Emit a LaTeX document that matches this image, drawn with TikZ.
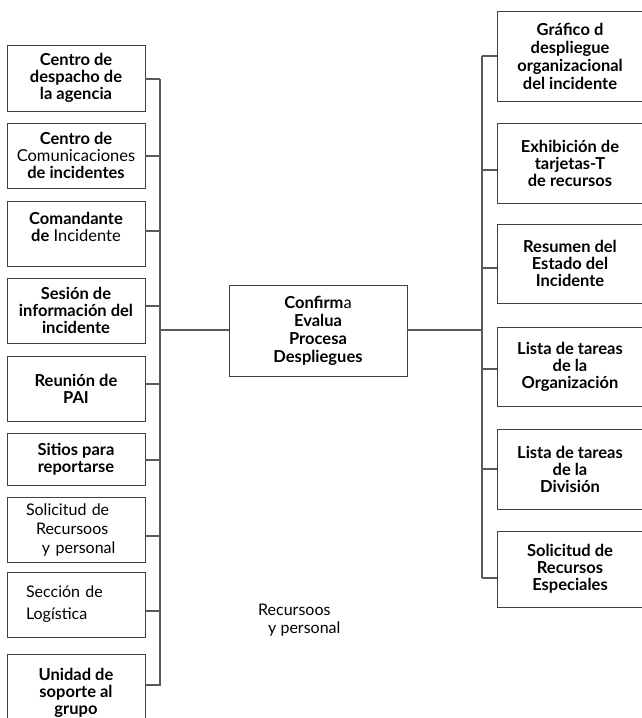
\documentclass[tikz,border=0pt]{standalone}
\usepackage{fontspec}
\setmainfont{Lato}
\begin{document}
\begin{tikzpicture}[x=1pt,y=-1pt,
  box/.style={draw=black!75, line width=0.9pt, align=center, inner sep=0pt,
    font=\fontsize{16.5}{17}\selectfont},
  lbox/.style={box, minimum width=138pt},
  rbox/.style={box, minimum width=146pt},
  leftset/.style={align=left, text width=100pt, inner xsep=19pt},
  link/.style={draw=black!65, line width=1.1pt},
  plain/.style={font=\fontsize{16}{18}\selectfont, align=left, inner sep=0pt}]
\clip (0,0) rectangle (642,718);

% left column
\node[lbox, minimum height=66pt] (L1) at (76,78) {\textbf{Centro de}\\\textbf{despacho de}\\\textbf{la agencia}};
\node[lbox, minimum height=65pt] (L2) at (76,155.5) {\textbf{Centro de}\\Comunicaciones\\\textbf{de incidentes}};
\node[lbox, minimum height=65pt] (L3) at (76,233.5) {\textbf{Comandante}\\\textbf{de} Incidente\\[-3pt]};
\node[lbox, minimum height=65pt] (L4) at (76,310.5) {\textbf{Sesión de}\\\textbf{información del}\\\textbf{incidente}};
\node[lbox, minimum height=65pt] (L5) at (76,388.5) {\textbf{Reunión de}\\\textbf{PAI}};
\node[lbox, minimum height=52pt] (L6) at (76,459) {\textbf{Sitios para}\\\textbf{reportarse}};
\node[lbox, leftset, minimum height=65pt, font=\fontsize{16}{19}\selectfont] (L7) at (76,529.5)
  {Solicitud de\\\hspace*{10pt}Recursoos\\\hspace*{16pt}y personal};
\node[lbox, leftset, minimum height=65pt, font=\fontsize{16}{22}\selectfont] (L8) at (76,604.5)
  {Sección de\\Logística};
\node[lbox, minimum height=78pt] (L9) at (76,693) {\textbf{Unidad de}\\\textbf{soporte al}\\\textbf{grupo}};

% centre
\node[box, minimum width=178pt, minimum height=91pt, font=\fontsize{16.5}{18}\selectfont] (C) at (318,330.5)
  {\textbf{Confirm}a\\\textbf{Evalua}\\\textbf{Procesa}\\\textbf{Despliegues}};

% right column
\node[rbox, minimum height=90pt, font=\fontsize{16.5}{18}\selectfont] (R1) at (570,56) {\textbf{Gráfico d}\\\textbf{despliegue}\\\textbf{organizacional}\\\textbf{del incidente}};
\node[rbox, minimum height=80pt] (R2) at (570,163) {\textbf{Exhibición de}\\\textbf{tarjetas-T}\\\textbf{de recursos}};
\node[rbox, minimum height=79pt] (R3) at (570,263.5) {\textbf{Resumen del}\\\textbf{Estado del}\\\textbf{Incidente}};
\node[rbox, minimum height=79pt] (R4) at (570,366.5) {\textbf{Lista de tareas}\\\textbf{de la}\\\textbf{Organización}};
\node[rbox, minimum height=80pt] (R5) at (570,469) {\textbf{Lista de tareas}\\\textbf{de la}\\\textbf{División}};
\node[rbox, minimum height=76pt] (R6) at (570,569) {\textbf{Solicitud de}\\\textbf{Recursos}\\\textbf{Especiales}};

% free label
\node[plain, anchor=north west] (T) at (258,604) {Recursoos\\\hspace*{10pt}y personal};

% left bus
\coordinate (lt) at (160,79);
\coordinate (lb) at (160,686);
\coordinate (lm) at (160,330);
\draw[link] (lt) -- (lb);
\foreach \n/\y in {L1/79,L2/156,L3/231,L4/306,L5/384,L6/460,L7/536,L8/611,L9/685}
  \draw[link] (\n.east |- 0,\y) -- (160,\y);
\draw[link] (lm) -- (C.west |- lm);

% right bus
\coordinate (rt) at (482,56);
\coordinate (rb) at (482,578);
\coordinate (rm) at (482,330);
\draw[link] (rt) -- (rb);
\foreach \n/\y in {R1/56,R2/170,R3/268,R4/369,R5/469,R6/578}
  \draw[link] (482,\y) -- (\n.west |- 0,\y);
\draw[link] (C.east |- rm) -- (rm);
\end{tikzpicture}
\end{document}
